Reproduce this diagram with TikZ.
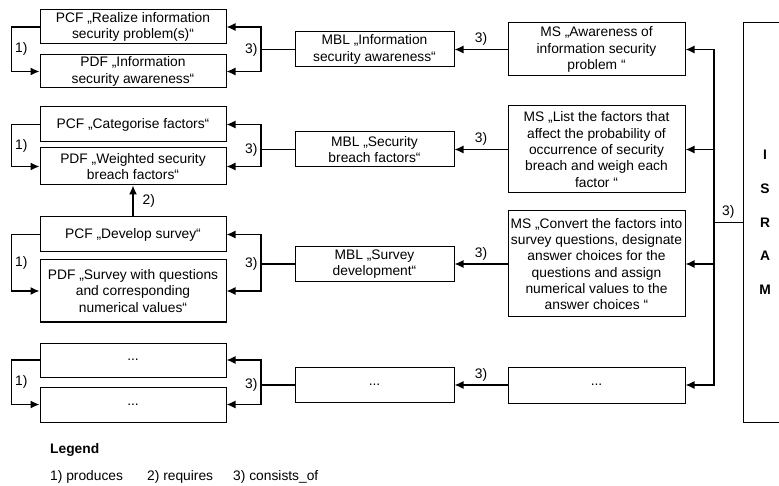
\documentclass[tikz,border=0pt]{standalone}
\usepackage{fontspec}
\setmainfont{Liberation Sans}
\usepackage{tikz}
\usetikzlibrary{arrows.meta, positioning, calc}
\tikzset{
    fnblock/.style = {rectangle, draw, fill=white, align=center, line width=1pt, inner sep=1pt, minimum width=186pt, minimum height=34pt},
    mblblock/.style = {rectangle, draw, fill=white, align=center, line width=1pt, inner sep=1pt, minimum width=159pt, minimum height=35pt},
    msblock/.style = {rectangle, draw, fill=white, align=center, line width=1pt, inner sep=1pt, minimum width=177pt, minimum height=36pt},
    isramblock/.style = {rectangle, draw, fill=white, align=center, line width=1pt, minimum width=44pt, minimum height=399pt, font=\bfseries\fontsize{13.8}{33.7}\selectfont},
    line/.style = {draw, -{Latex[length=9pt, width=8pt]}, line width=1.3pt},
    wire/.style = {draw, line width=1.3pt},
    lbl/.style = {inner sep=3pt}
}

\begin{document}
\begin{tikzpicture}[x=1pt, y=-1pt, every node/.append style={font=\fontsize{13.8}{16.3}\selectfont}]
        \fill [white] (0,0) rectangle (779,486);
        \useasboundingbox (0,0) rectangle (779,486);

        % PCF / PDF pairs
        \node [fnblock] (pcf1) at (133,27) {PCF „Realize information\\security problem(s)“};
        \node [fnblock, minimum height=33pt] (pdf1) at (133,71.5) {PDF „Information\\security awareness“};
        \node [fnblock, minimum height=35pt] (pcf2) at (133,124.5) {PCF „Categorise factors“};
        \node [fnblock, minimum height=37pt] (pdf2) at (133,166.5) {PDF „Weighted security\\breach factors“};
        \node [fnblock, minimum height=35pt] (pcf3) at (133,234.5) {PCF „Develop survey“};
        \node [fnblock, minimum height=62pt] (pdf3) at (133,291) {PDF „Survey with questions\\and corresponding\\numerical values“};
        \node [fnblock] (pcf4) at (133,360) {...};
        \node [fnblock, minimum height=35pt] (pdf4) at (133,404.5) {...};

        % Method steps
        \node [msblock, minimum height=53pt] (ms1) at (596.5,49.5) {MS „Awareness of\\information security\\problem “};
        \node [msblock, minimum height=87pt] (ms2) at (596.5,149.5) {MS „List the factors that\\affect the probability of\\occurrence of security\\breach and weigh each\\factor “};
        \node [msblock, minimum height=106pt] (ms3) at (596.5,264) {MS „Convert the factors into\\survey questions, designate\\answer choices for the\\questions and assign\\numerical values to the\\answer choices “};
        \node [msblock] (ms4) at (596.5,385) {...};

        % Method building blocks
        \node [mblblock, left=53pt of ms1] (mbl1) {MBL „Information\\security awareness“};
        \node [mblblock, left=53pt of ms2] (mbl2) {MBL „Security\\breach factors“};
        \node [mblblock, left=53pt of ms3] (mbl3) {MBL „Survey\\development“};
        \node [mblblock, left=53pt of ms4] (mbl4) {...};

        % ISRAM
        \node [isramblock] (isram) at (765,222.5) {I\\S\\R\\A\\M};

        % Bracket points
        \coordinate (brk1) at (261,49.5);
        \coordinate (brk2) at (261,149.5);
        \coordinate (brk3) at (261,264);
        \coordinate (brk4) at (261,385);
        \coordinate (rbrk) at (714,222.5);

        % Legend
        \node [anchor=west, inner sep=0pt, font=\bfseries\fontsize{13.8}{16.3}\selectfont] (legend) at (50,450) {Legend};
        \node [anchor=west, inner sep=0pt] (leg1) at (50,477) {1) produces};
        \node [anchor=west, inner sep=0pt] (leg2) at (147,477) {2) requires};
        \node [anchor=west, inner sep=0pt] (leg3) at (233,477) {3) consists\_of};

        % Arrows: produces
        \path [line] (pcf1.west) -- ++(-28,0) |- node [lbl, pos=0.25, right] {1)} (pdf1.west);
        \path [line] (pcf2.west) -- ++(-28,0) |- node [lbl, pos=0.25, right] {1)} (pdf2.west);
        \path [line] (pcf3.west) -- ++(-28,0) |- node [lbl, pos=0.25, right] {1)} (pdf3.west);
        \path [line] (pcf4.west) -- ++(-28,0) |- node [lbl, pos=0.25, right] {1)} (pdf4.west);

        % Arrow: requires
        \path [line] (pcf3) -- (pdf2) node [lbl, midway, right, xshift=6pt] {2)};

        % Arrows: MBL consists_of PCF/PDF
        \path [wire] (mbl1) -- (brk1) node [lbl, left] {3)};
        \path [line] (brk1) |- (pcf1.east);
        \path [line] (brk1) |- (pdf1.east);
        \path [wire] (mbl2) -- (brk2) node [lbl, left] {3)};
        \path [line] (brk2) |- (pcf2.east);
        \path [line] (brk2) |- (pdf2.east);
        \path [wire] (mbl3) -- (brk3) node [lbl, left] {3)};
        \path [line] (brk3) |- (pcf3.east);
        \path [line] (brk3) |- (pdf3.east);
        \path [wire] (mbl4) -- (brk4) node [lbl, left] {3)};
        \path [line] (brk4) |- (pcf4.east);
        \path [line] (brk4) |- (pdf4.east);

        % Arrows: MS consists_of MBL
        \path [line] (ms1) -- (mbl1) node [lbl, midway, above] {3)};
        \path [line] (ms2) -- (mbl2) node [lbl, midway, above] {3)};
        \path [line] (ms3) -- (mbl3) node [lbl, midway, above] {3)};
        \path [line] (ms4) -- (mbl4) node [lbl, midway, above] {3)};

        % Arrows: ISRAM consists_of MS
        \path [wire] (isram) -- (rbrk) node [lbl, midway, above] {3)};
        \path [line] (rbrk) |- (ms1.east);
        \path [line] (rbrk) |- (ms2.east);
        \path [line] (rbrk) |- (ms3.east);
        \path [line] (rbrk) |- (ms4.east);

    \end{tikzpicture}
\end{document}
